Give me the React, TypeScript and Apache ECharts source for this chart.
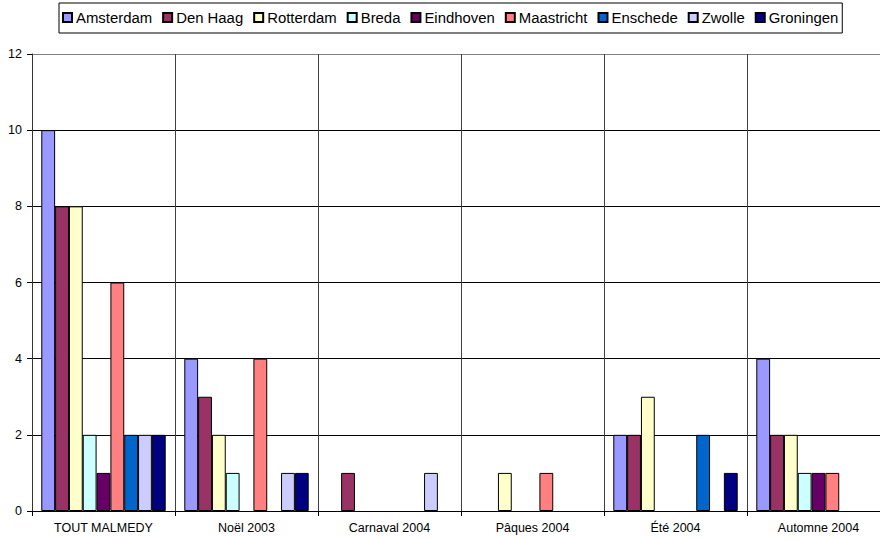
import React, { useEffect, useRef } from "react";
import * as echarts from "echarts";

const categories = ["TOUT MALMEDY", "Noël 2003", "Carnaval 2004", "Pâques 2004", "Été 2004", "Automne 2004"];
const seriesNames = ["Amsterdam", "Den Haag", "Rotterdam", "Breda", "Eindhoven", "Maastricht", "Enschede", "Zwolle", "Groningen"];
const colors = ["#9999FF", "#993366", "#FFFFCC", "#CCFFFF", "#660066", "#FF8080", "#0066CC", "#CCCCFF", "#000080"];

const amsterdam = [10, 4, 0, 0, 2, 4];
const denHaag = [8, 3, 1, 0, 2, 2];
const rotterdam = [8, 2, 0, 1, 3, 2];
const breda = [2, 1, 0, 0, 0, 1];
const eindhoven = [1, 0, 0, 0, 0, 1];
const maastricht = [6, 4, 0, 1, 0, 1];
const enschede = [2, 0, 0, 0, 2, 0];
const zwolle = [2, 1, 1, 0, 0, 0];
const groningen = [2, 1, 0, 0, 1, 0];

const seriesValues = [amsterdam, denHaag, rotterdam, breda, eindhoven, maastricht, enschede, zwolle, groningen];
const yTicks = [0, 2, 4, 6, 8, 10, 12];

const FONT = "'Liberation Sans', Arial, sans-serif";

export default function App() {
  const ref = useRef<HTMLDivElement>(null);
  useEffect(() => {
    if (!ref.current) return;
    const chart = echarts.init(ref.current, undefined, { renderer: "svg" });
    chart.setOption({
      animation: false,
      backgroundColor: "#ffffff",
      color: colors,
      textStyle: { fontFamily: FONT },
      legend: {
        left: 59,
        top: 3,
        orient: "horizontal",
        padding: [7, 4, 8, 3],
        itemWidth: 9,
        itemHeight: 9,
        itemGap: 10,
        borderColor: "#000",
        borderWidth: 1,
        icon: "rect",
        textStyle: { fontFamily: FONT, fontSize: 14.9, color: "#000", padding: [0, 0, 0, -1] },
        data: seriesNames,
      },
      grid: { left: 32, top: 54, width: 858, height: 457, containLabel: false },
      xAxis: {
        type: "category",
        data: categories,
        axisLine: { lineStyle: { color: "#000", width: 1 } },
        axisTick: { show: true, length: 5, lineStyle: { color: "#000" } },
        splitLine: { show: true, lineStyle: { color: "#404040", width: 1 } },
        axisLabel: { fontFamily: FONT, fontSize: 12.5, color: "#000", margin: 10 },
      },
      yAxis: {
        type: "value",
        min: yTicks[0],
        max: yTicks[yTicks.length - 1],
        interval: 2,
        axisLine: { show: true, lineStyle: { color: "#333", width: 1 } },
        axisTick: { show: true, length: 5, lineStyle: { color: "#000" } },
        splitLine: {
          show: true,
          lineStyle: { color: ["#000", "#000", "#000", "#000", "#000", "#000", "#808080"], width: 1 },
        },
        axisLabel: { fontFamily: FONT, fontSize: 12.5, color: "#000", margin: 10 },
      },
      series: seriesNames.map((name, i) => ({
        name,
        type: "bar",
        barGap: "0%",
        barCategoryGap: "13%",
        itemStyle: { color: colors[i], borderColor: "#000", borderWidth: 1 },
        data: seriesValues[i].map((v) => (v === 0 ? "-" : v)),
      })),
    });
    return () => chart.dispose();
  }, []);
  return <div ref={ref} style={{ position: "fixed", left: 0, top: 0, width: 890, height: 539 }} />;
}
